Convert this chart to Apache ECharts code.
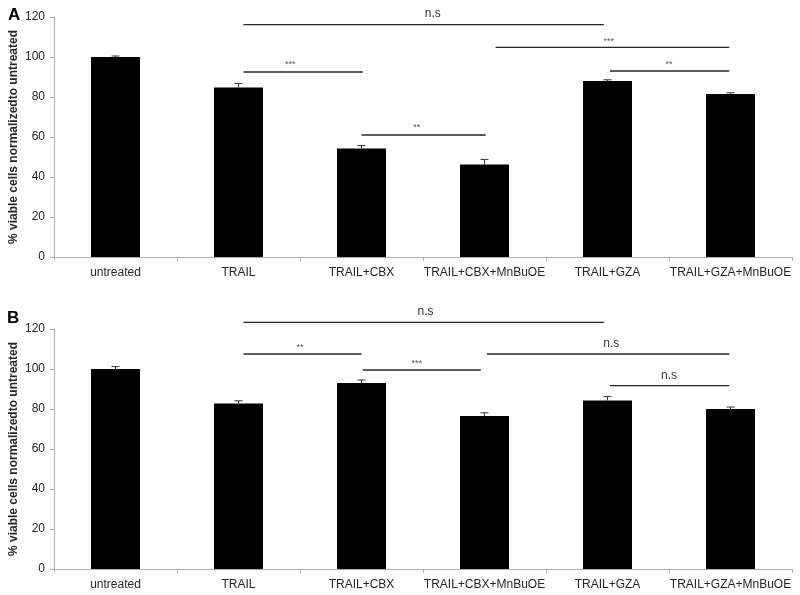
<!DOCTYPE html>
<html>
<head>
<meta charset="utf-8">
<script src="https://cdn.jsdelivr.net/npm/echarts@6/dist/echarts.min.js"></script>
<style>
  html, body { margin: 0; padding: 0; background: #fff; }
  #chart { width: 800px; height: 595px; }
</style>
</head>
<body>
<div id="chart"></div>
<script>
const categories = ['untreated', 'TRAIL', 'TRAIL+CBX', 'TRAIL+CBX+MnBuOE', 'TRAIL+GZA', 'TRAIL+GZA+MnBuOE'];

const valuesA = [100, 84.8, 54.2, 46.2, 88, 81.5];
const errorsA = [0.5, 2, 1.5, 2.6, 0.6, 0.6];
const valuesB = [100, 82.8, 93, 76.5, 84.2, 80];
const errorsB = [1.2, 1.3, 1.5, 1.6, 2, 1];

// brackets: [from category, to category, y value, label x (category), label y]
const bracketsA = [
  [1.04, 3.97, 116.2, 2.58, 121.5],
  [3.09, 4.99, 104.8, 4.01, 107.5],
  [4.02, 4.99, 93, 4.5, 96],
  [1.04, 2.01, 92.5, 1.42, 96],
  [2.0, 3.01, 61, 2.45, 64.5],
];
const bracketLabelsA = ['n.s', '***', '**', '***', '**'];

const bracketsB = [
  [1.04, 3.97, 123.3, 2.52, 128.5],
  [1.04, 2.0, 107.5, 1.5, 110.7],
  [2.01, 2.97, 99.5, 2.45, 102.7],
  [3.02, 4.99, 107.5, 4.03, 112.5],
  [4.02, 4.99, 91.7, 4.5, 96.5],
];
const bracketLabelsB = ['n.s', '**', '***', 'n.s', 'n.s'];

const yTicks = [0, 20, 40, 60, 80, 100, 120];

const chart = echarts.init(document.getElementById('chart'));

const font = '"Liberation Sans", Arial, sans-serif';

const makeX = (gridIndex) => ({
  type: 'category',
  gridIndex,
  data: categories,
  axisLine: { lineStyle: { color: '#b0b0b0', width: 1 } },
  axisTick: { show: true, length: 4, lineStyle: { color: '#b0b0b0' } },
  axisLabel: { color: '#262626', fontSize: 12, fontFamily: font, margin: 10, interval: 0 },
});

const makeY = (gridIndex) => ({
  type: 'value',
  gridIndex,
  min: yTicks[0],
  max: yTicks[yTicks.length - 1],
  interval: yTicks[1] - yTicks[0],
  name: '% viable cells normalizedto untreated',
  nameLocation: 'middle',
  nameRotate: 90,
  nameGap: 34,
  nameMoveOverlap: false,
  nameTextStyle: { color: '#262626', fontSize: 12, fontWeight: 'bold', fontFamily: font },
  axisLine: { show: true, lineStyle: { color: '#b0b0b0', width: 1 } },
  axisTick: { show: true, inside: false, length: 4, lineStyle: { color: '#b0b0b0' } },
  axisLabel: { color: '#262626', fontSize: 12, fontFamily: font, margin: 9 },
  splitLine: { show: false },
});

// convert a fractional category position to a pixel x
const catX = (api, pos) => {
  const x0 = api.coord([0, 0])[0];
  const band = api.size([1, 0])[0];
  return x0 + pos * band;
};

const errorSeries = (idx, values, errors) => ({
  type: 'custom',
  xAxisIndex: idx,
  yAxisIndex: idx,
  z: 5,
  data: values.map((v, i) => [i, v, errors[i]]),
  renderItem: (params, api) => {
    const i = params.dataIndex;
    const top = api.coord([i, values[i] + errors[i]]);
    const base = api.coord([i, values[i]]);
    const style = { stroke: '#333', lineWidth: 1 };
    return {
      type: 'group',
      children: [
        { type: 'line', shape: { x1: base[0], y1: base[1], x2: top[0], y2: top[1] }, style },
        { type: 'line', shape: { x1: top[0] - 4, y1: top[1], x2: top[0] + 4, y2: top[1] }, style },
      ],
    };
  },
});

const bracketSeries = (idx, brackets, labels) => ({
  type: 'custom',
  xAxisIndex: idx,
  yAxisIndex: idx,
  clip: false,
  z: 6,
  data: brackets.map((b, i) => [i, b[2]]),
  renderItem: (params, api) => {
    const b = brackets[params.dataIndex];
    const label = labels[params.dataIndex];
    const y = api.coord([0, b[2]])[1];
    const ly = api.coord([0, b[4]])[1];
    const isStar = label.indexOf('*') >= 0;
    return {
      type: 'group',
      children: [
        {
          type: 'line',
          shape: { x1: catX(api, b[0]), y1: y, x2: catX(api, b[1]), y2: y },
          style: { stroke: '#262626', lineWidth: 1.3 },
        },
        {
          type: 'text',
          style: {
            x: catX(api, b[3]),
            y: ly,
            text: label,
            fill: isStar ? '#555' : '#333',
            font: (isStar ? '9px ' : '12px ') + font,
            align: 'center',
            verticalAlign: 'middle',
          },
        },
      ],
    };
  },
});

const barSeries = (idx, values) => ({
  type: 'bar',
  xAxisIndex: idx,
  yAxisIndex: idx,
  data: values,
  barWidth: 49,
  itemStyle: { color: '#000' },
  animation: false,
});

chart.setOption({
  animation: false,
  grid: [
    { left: 54, right: 8, top: 17, height: 240, outerBoundsMode: 'none', containLabel: false },
    { left: 54, right: 8, top: 329, height: 240, outerBoundsMode: 'none', containLabel: false },
  ],
  graphic: [
    { type: 'text', left: 8, top: 7, style: { text: 'A', font: 'bold 17px ' + font, fill: '#000' } },
    { type: 'text', left: 7, top: 310, style: { text: 'B', font: 'bold 17px ' + font, fill: '#000' } },
  ],
  xAxis: [makeX(0), makeX(1)],
  yAxis: [makeY(0), makeY(1)],
  series: [
    barSeries(0, valuesA),
    barSeries(1, valuesB),
    errorSeries(0, valuesA, errorsA),
    errorSeries(1, valuesB, errorsB),
    bracketSeries(0, bracketsA, bracketLabelsA),
    bracketSeries(1, bracketsB, bracketLabelsB),
  ],
});
</script>
</body>
</html>
